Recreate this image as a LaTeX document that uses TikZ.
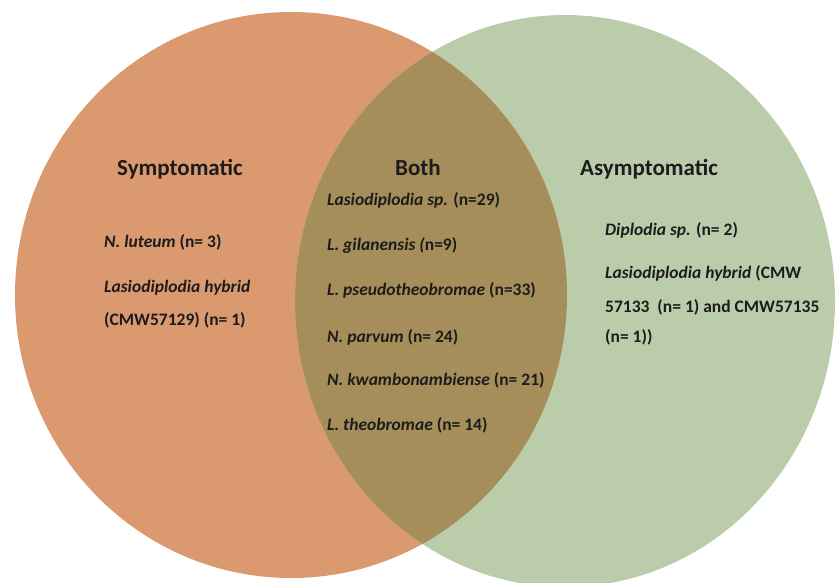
\documentclass[tikz,border=0pt]{standalone}
\usepackage{fontspec}
\setmainfont{Carlito}
\definecolor{symcol}{RGB}{219,153,112}
\definecolor{asymcol}{RGB}{187,204,171}
\definecolor{bothcol}{RGB}{165,142,90}
\definecolor{txtcol}{RGB}{28,28,28}

\begin{document}
\begin{tikzpicture}[x=1pt,y=-1pt,
  title/.style={anchor=base west,inner sep=0pt,text=txtcol,font=\fontsize{23}{23}\selectfont\bfseries},
  entry/.style={anchor=base west,inner sep=0pt,text=txtcol,font=\fontsize{17.5}{17.5}\selectfont\bfseries}]
\useasboundingbox (0,0) rectangle (840,582);
% the two sets and their overlap
\fill[symcol] (291,295) ellipse [x radius=276pt, y radius=283pt];
\fill[asymcol] (565,301) ellipse [x radius=270pt, y radius=286pt];
\begin{scope}
\clip (291,295) ellipse [x radius=276pt, y radius=283pt];
\fill[bothcol] (565,301) ellipse [x radius=270pt, y radius=286pt];
\end{scope}
% headings
\node[title] (sym) at (117,175) {Symptomatic};
\node[title] (both) at (395,175) {Both};
\node[title] (asym) at (580,175) {Asymptomatic};
% symptomatic only
\node[entry] (luteum) at (104,247) {{\itshape N. luteum} (n= 3)};
\node[entry] (hybsym) at (104,292) {{\itshape Lasiodiplodia hybrid}};
\node[entry] (cmwsym) at (104,325) {(CMW57129) (n= 1)};
% both
\node[entry] (lasio) at (327,205) {{\itshape Lasiodiplodia sp.} (n=29)};
\node[entry] (gilan) at (327,250) {{\itshape L. gilanensis (}n=9)};
\node[entry] (pseudo) at (327,295) {{\itshape L. pseudotheobromae} (n=33)};
\node[entry] (parvum) at (327,342) {{\itshape N. parvum} (n= 24)};
\node[entry] (kwamb) at (327,385) {{\itshape N. kwambonambiense} (n= 21)};
\node[entry] (theob) at (327,430) {{\itshape L. theobromae} (n= 14)};
% asymptomatic only
\node[entry] (diplo) at (605,235) {{\itshape Diplodia sp.} (n= 2)};
\node[entry] (hybasym) at (605,278) {{\itshape Lasiodiplodia hybrid} (CMW};
\node[entry] (cmwasym) at (605,312) {57133\ \ (n= 1) and CMW57135};
\node[entry] (nasym) at (605,342) {(n= 1))};
\end{tikzpicture}
\end{document}
